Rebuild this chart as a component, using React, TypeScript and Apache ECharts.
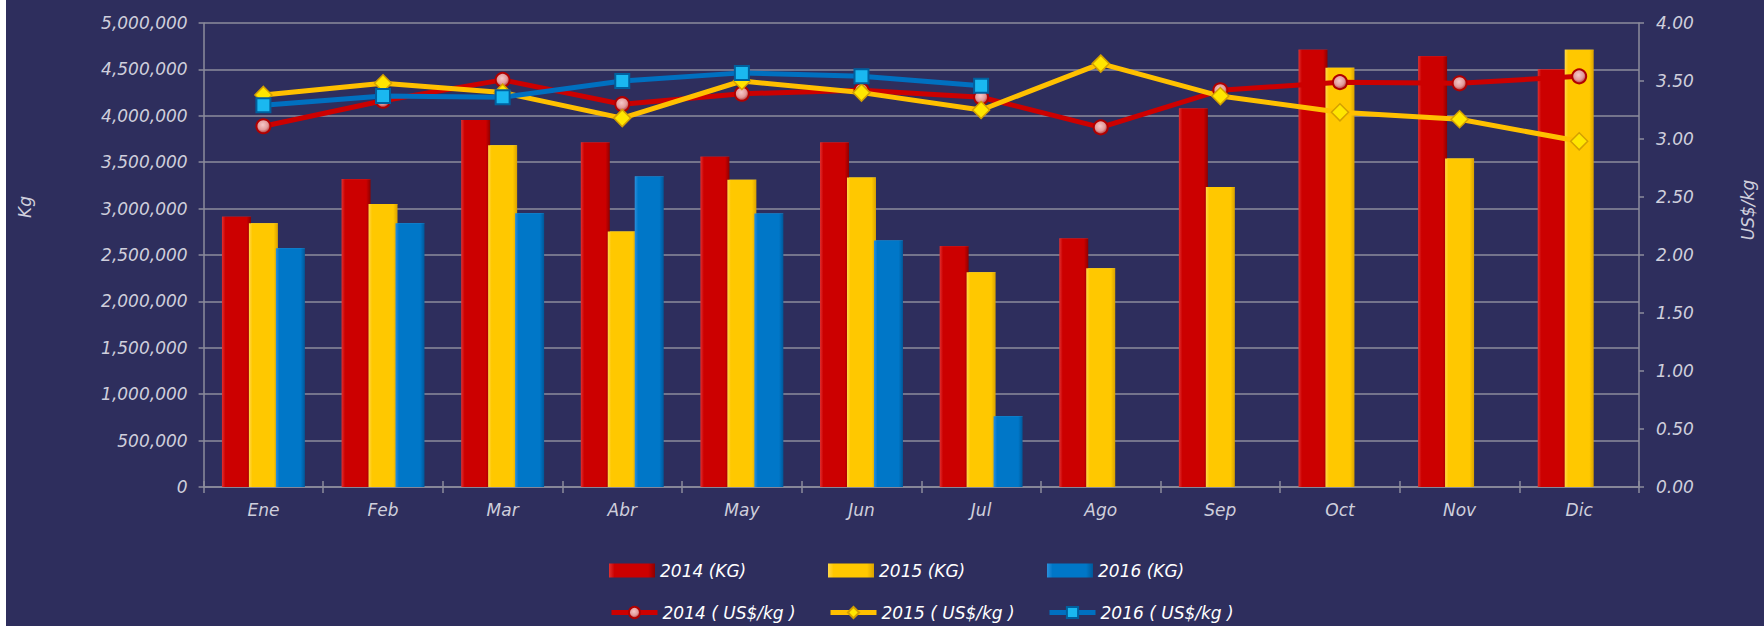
import React, { useEffect, useRef } from "react";
import * as echarts from "echarts";

const months = ["Ene", "Feb", "Mar", "Abr", "May", "Jun", "Jul", "Ago", "Sep", "Oct", "Nov", "Dic"];
const kg2014 = [2913000, 3316000, 3955000, 3711000, 3560000, 3711000, 2594000, 2677000, 4078000, 4713000, 4641000, 4498000];
const kg2015 = [2841000, 3050000, 3682000, 2752000, 3312000, 3334000, 2314000, 2357000, 3233000, 4519000, 3539000, 4713000];
const kg2016 = [2572000, 2841000, 2949000, 3345000, 2946000, 2655000, 762000, null, null, null, null, null];
const usd2014 = [3.11, 3.33, 3.51, 3.3, 3.39, 3.42, 3.36, 3.1, 3.42, 3.49, 3.48, 3.54];
const usd2015 = [3.38, 3.48, 3.4, 3.18, 3.5, 3.4, 3.25, 3.65, 3.37, 3.23, 3.17, 2.98];
const usd2016 = [3.29, 3.37, 3.36, 3.5, 3.57, 3.54, 3.46, null, null, null, null, null];

const names = ["2014 (KG)", "2015 (KG)", "2016 (KG)", "2014 ( US$/kg )", "2015 ( US$/kg )", "2016 ( US$/kg )"];

const FONT = "DejaVu Sans";
const AXIS_TXT = "#cfcfdc";
const BAR_W = 29;
const BAR_GAP_PX = 2;

function barGrad(edgeL: string, mid: string, edgeR: string) {
  return new echarts.graphic.LinearGradient(0, 0, 1, 0, [
    { offset: 0, color: edgeL },
    { offset: 0.12, color: mid },
    { offset: 0.85, color: mid },
    { offset: 1, color: edgeR },
  ]);
}

export default function App() {
  const ref = useRef<HTMLDivElement>(null);
  useEffect(() => {
    if (!ref.current) return;
    const chart = echarts.init(ref.current, undefined, { renderer: "svg" });
    const red = barGrad("#e03030", "#cc0000", "#8e0000");
    const yellow = barGrad("#ffd84a", "#ffc800", "#d9a200");
    const blue = barGrad("#2a90dd", "#0077c8", "#00599a");
    const tops = ["#f23a3a", "#ffe45a", "#3cb0f2"];
    const legendBase = {
      orient: "horizontal",
      itemWidth: 46,
      itemHeight: 14,
      lineStyle: { width: 5 },
      textStyle: { color: "#ffffff", fontFamily: FONT, fontStyle: "italic", fontSize: 17 },
    };
    const cols = [598, 817, 1036];
    const legends: any[] = names.map((n, i) => ({
      ...legendBase,
      data: [i < 3 ? { name: n, icon: "rect" } : { name: n }],
      left: cols[i % 3],
      top: i < 3 ? 557 : 599,
    }));
    const kgSets = [kg2014, kg2015, kg2016];
    const bevelData: any[] = [];
    kgSets.forEach((arr, k) =>
      arr.forEach((v, i) => {
        if (v != null) bevelData.push([i, v, k]);
      })
    );
    const total = 3 * BAR_W - 2 * BAR_GAP_PX;
    const bevel = {
      type: "custom",
      xAxisIndex: 0,
      yAxisIndex: 0,
      silent: true,
      data: bevelData,
      encode: { x: 0, y: 1 },
      renderItem: (_p: any, api: any) => {
        const i = api.value(0);
        const v = api.value(1);
        const k = api.value(2);
        const pt = api.coord([i, v]);
        const x0 = pt[0] - total / 2 + k * (BAR_W - BAR_GAP_PX);
        const y = pt[1];
        return {
          type: "polygon",
          shape: {
            points: [
              [x0, y],
              [x0 + BAR_W, y],
              [x0 + BAR_W - 5, y + 7],
              [x0 + 5, y + 7],
            ],
          },
          style: { fill: tops[k] },
        };
      },
    };
    const option: any = {
      animation: false,
      backgroundColor: "#2e2e5d",
      grid: { left: 197.6, right: 125, top: 23, bottom: 139, containLabel: false },
      legend: legends,
      xAxis: [
        {
          type: "category",
          data: months,
          boundaryGap: true,
          axisLine: { lineStyle: { color: "#8c8c9c", width: 1.5 } },
          axisTick: { show: true, length: 6, lineStyle: { color: "#8c8c9c", width: 1.5 } },
          axisLabel: { color: AXIS_TXT, fontFamily: FONT, fontStyle: "italic", fontSize: 17, margin: 14 },
        },
        {
          type: "category",
          data: months,
          position: "bottom",
          boundaryGap: true,
          axisLine: { show: false },
          axisTick: { show: true, inside: true, length: 6, lineStyle: { color: "#8c8c9c", width: 1.5 } },
          axisLabel: { show: false },
        },
      ],
      yAxis: [
        {
          type: "value",
          min: 0,
          max: 5000000,
          interval: 500000,
          axisLine: { show: true, lineStyle: { color: "#8c8c9c", width: 1.5 } },
          axisTick: { show: true, length: 5, lineStyle: { color: "#8c8c9c", width: 1.5 } },
          splitLine: { show: true, lineStyle: { color: "#8c8c9c", width: 1.5 } },
          axisLabel: {
            color: AXIS_TXT,
            fontFamily: FONT,
            fontStyle: "italic",
            fontSize: 17,
            margin: 16,
            formatter: (v: number) => v.toLocaleString("en-US"),
          },
        },
        {
          type: "value",
          min: 0,
          max: 4,
          interval: 0.5,
          position: "right",
          axisLine: { show: true, lineStyle: { color: "#8c8c9c", width: 1.5 } },
          axisTick: { show: true, length: 5, lineStyle: { color: "#8c8c9c", width: 1.5 } },
          splitLine: { show: false },
          axisLabel: {
            color: AXIS_TXT,
            fontFamily: FONT,
            fontStyle: "italic",
            fontSize: 17,
            margin: 17,
            formatter: (v: number) => v.toFixed(2),
          },
        },
      ],
      graphic: [
        {
          type: "text",
          x: 19,
          y: 207,
          rotation: Math.PI / 2,
          style: { text: "Kg", fill: AXIS_TXT, font: `italic 17px '${FONT}'`, textAlign: "center", textVerticalAlign: "middle" },
        },
        {
          type: "text",
          x: 1742,
          y: 210,
          rotation: Math.PI / 2,
          style: { text: "US$/kg", fill: AXIS_TXT, font: `italic 17px '${FONT}'`, textAlign: "center", textVerticalAlign: "middle" },
        },
      ],
      series: [
        { name: names[0], type: "bar", data: kg2014, barWidth: BAR_W, barGap: "-7%", itemStyle: { color: red } },
        { name: names[1], type: "bar", data: kg2015, barWidth: BAR_W, barGap: "-7%", itemStyle: { color: yellow } },
        { name: names[2], type: "bar", data: kg2016, barWidth: BAR_W, barGap: "-7%", itemStyle: { color: blue } },
        bevel,
        {
          name: names[3],
          type: "line",
          yAxisIndex: 1,
          data: usd2014,
          symbol: "circle",
          symbolSize: 14,
          lineStyle: { color: "#cc0000", width: 5 },
          itemStyle: {
            color: new echarts.graphic.RadialGradient(0.45, 0.4, 0.6, [
              { offset: 0, color: "#f6c8c8" },
              { offset: 0.6, color: "#e29a9a" },
              { offset: 1, color: "#b03030" },
            ]),
            borderColor: "#b00000",
            borderWidth: 2,
          },
        },
        {
          name: names[4],
          type: "line",
          yAxisIndex: 1,
          data: usd2015,
          symbol: "diamond",
          symbolSize: 17,
          lineStyle: { color: "#ffc000", width: 5 },
          itemStyle: { color: "#ffe600", borderColor: "#d4a000", borderWidth: 1.5 },
        },
        {
          name: names[5],
          type: "line",
          yAxisIndex: 1,
          data: usd2016,
          symbol: "rect",
          symbolSize: 14,
          lineStyle: { color: "#0070c0", width: 5 },
          itemStyle: { color: "#1ab8f0", borderColor: "#00609e", borderWidth: 2 },
        },
      ],
    };
    chart.setOption(option);
    return () => chart.dispose();
  }, []);
  return (
    <div
      ref={ref}
      style={{ position: "absolute", left: 6, top: 0, width: 1758, height: 626 }}
    />
  );
}
